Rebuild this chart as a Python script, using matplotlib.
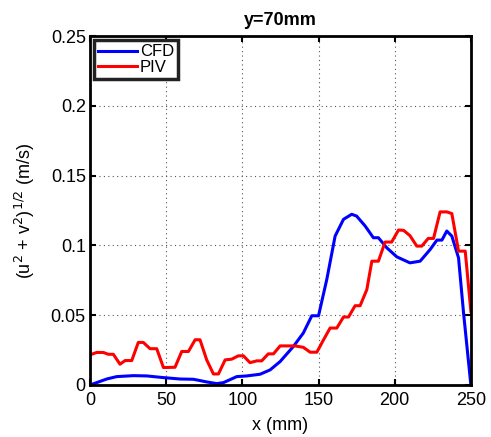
import numpy as np
import matplotlib
matplotlib.use("Agg")
import matplotlib.pyplot as plt

plt.rcParams['font.family'] = ['Liberation Sans', 'DejaVu Sans']

# PIV profile
piv_x = [0, 4.4, 8.8, 12, 15.3, 19.7, 23, 27.4, 31.7, 35, 39.4, 43.8, 48.2, 55.8,
         60.2, 64.6, 69, 72.2, 76.6, 81, 84.3, 88.7, 93, 97.4, 100.7, 105, 109.5,
         112.7, 117, 120.4, 124.8, 130, 134.6, 140, 144.5, 148.9, 153.3, 157.6,
         162, 166.4, 169.7, 174, 177.3, 181.7, 185, 189.3, 193.7, 198, 202.5,
         205.8, 210, 214.5, 217.8, 222, 225.5, 229.8, 234.2, 237.5, 241.9, 246.3, 250]
piv_v = [0.0216, 0.0233, 0.0233, 0.022, 0.022, 0.0149, 0.0175, 0.0175, 0.0305, 0.0305,
         0.026, 0.026, 0.0125, 0.0127, 0.024, 0.024, 0.0324, 0.0324, 0.018, 0.0079,
         0.0079, 0.018, 0.0185, 0.0209, 0.0209, 0.016, 0.0173, 0.0173, 0.0223, 0.0223,
         0.028, 0.028, 0.028, 0.027, 0.0235, 0.0235, 0.0324, 0.0408, 0.0408, 0.0487,
         0.0487, 0.0568, 0.0568, 0.0683, 0.0887, 0.0887, 0.1024, 0.1024, 0.111, 0.1108,
         0.107, 0.0995, 0.0995, 0.105, 0.105, 0.124, 0.124, 0.1228, 0.0959, 0.0959, 0.0528]

# CFD profile
cfd_x = [0, 4.4, 11, 17.5, 28.5, 37.2, 48.2, 59, 67.9, 76.6, 83.2, 87.6, 96.3, 102.9,
         111.6, 118.2, 124.8, 133.5, 140, 145.6, 150, 155.4, 160.9, 166.4, 171.8, 175,
         180.6, 186, 189.3, 194.8, 201.4, 210, 216.7, 223.3, 227.7, 231, 234.2, 237.5,
         241.9, 245.2, 250]
cfd_v = [0, 0.0017, 0.0043, 0.006, 0.0067, 0.0065, 0.0053, 0.0043, 0.0041, 0.0022,
         0.001, 0.0017, 0.006, 0.0065, 0.0077, 0.0108, 0.0168, 0.0276, 0.0372, 0.0496,
         0.0496, 0.0755, 0.1067, 0.1187, 0.1223, 0.121, 0.1139, 0.1055, 0.1055, 0.0983,
         0.0918, 0.0875, 0.0887, 0.0971, 0.1038, 0.1038, 0.1103, 0.1067, 0.0911, 0.0516, 0]

fig = plt.figure(figsize=(4.91, 4.37), dpi=100)
ax = fig.add_axes([0.1833, 0.119, 0.7757, 0.7986])

ax.plot(cfd_x, cfd_v, color='#0000ff', lw=2.2, label='CFD')
ax.plot(piv_x, piv_v, color='#ff0000', lw=2.2, label='PIV')

ax.set_xlim(0, 250)
ax.set_ylim(0, 0.25)
ax.set_xticks([0, 50, 100, 150, 200, 250])
ax.set_yticks([0, 0.05, 0.1, 0.15, 0.2, 0.25])
ax.set_yticklabels(['0', '0.05', '0.1', '0.15', '0.2', '0.25'])
ax.grid(True, color='#555555', linestyle=(0, (1, 3)), lw=0.8)
ax.tick_params(direction='in', length=4, width=1.5, labelsize=13,
               top=True, right=True)
ax.tick_params(axis='x', pad=5)
ax.tick_params(axis='y', pad=3)
for s in ax.spines.values():
    s.set_linewidth(2)

ax.set_xlabel('x (mm)', fontsize=13, labelpad=6)
ax.set_ylabel(r'(u$^2$ + v$^2$)$^{1/2}$ (m/s)', fontsize=13, labelpad=10)
ax.set_title('y=70mm', fontsize=13, fontweight='bold', pad=8)

leg = ax.legend(loc='upper left', fontsize=12, handlelength=2.3, handletextpad=0.2,
                borderpad=0.25, labelspacing=0.05, fancybox=False, framealpha=1,
                borderaxespad=0.25)
leg.get_frame().set_edgecolor('#222222')
leg.get_frame().set_linewidth(2.5)

fig.savefig('out.png', dpi=100)
